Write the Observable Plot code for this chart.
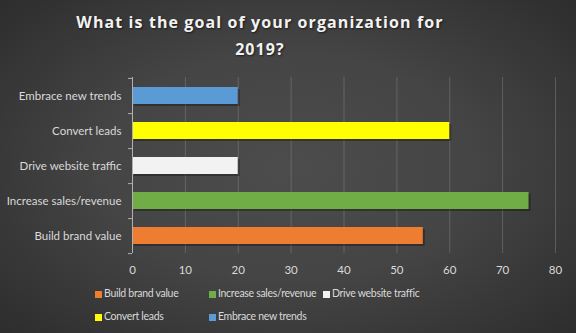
<!DOCTYPE html>
<html>
<head>
<meta charset="utf-8">
<script src="https://cdn.jsdelivr.net/npm/d3@7"></script>
<script src="https://cdn.jsdelivr.net/npm/@observablehq/plot@0.6"></script>
<style>
  html, body { margin: 0; padding: 0; }
  body {
    width: 576px; height: 333px; overflow: hidden; position: relative;
    background: radial-gradient(ellipse 70% 75% at 50% 50%, #4c4c4c 0%, #454545 45%, #2c2c2c 100%);
    font-family: Lato, "Open Sans", sans-serif;
  }
  #title {
    position: absolute; left: 0; top: 9px; width: 520px; text-align: center;
    color: #f2f2f2; font-family: "Open Sans", sans-serif; font-weight: 700;
    font-size: 16px; letter-spacing: 1.1px; line-height: 27px;
    text-shadow: 1px 1px 2px rgba(0,0,0,0.6);
  }
  #chart { position: absolute; left: 0; top: 64px; }
  #legend { position: absolute; left: 95px; top: 287px; width: 400px; display: flex; flex-wrap: wrap; }
  .item { width: 114px; height: 23px; display: flex; align-items: flex-start; color: #d9d9d9; font-size: 10.5px; letter-spacing: -0.3px; white-space: nowrap; }
  .sw { width: 7px; height: 7px; margin-right: 2px; margin-top: 4px; flex: none; }
</style>
</head>
<body>
<div id="title">What is the goal of your organization for<br>2019?</div>
<div id="chart"></div>
<div id="legend"></div>
<script>
const categories = ["Build brand value", "Increase sales/revenue", "Drive website traffic", "Convert leads", "Embrace new trends"];
const values = [55, 75, 20, 60, 20];
const colors = ["#ED7D31", "#70AD47", "#F2F2F2", "#FFFF00", "#5B9BD5"];
const xTicks = [0, 10, 20, 30, 40, 50, 60, 70, 80];

const data = categories.map((c, i) => ({category: c, value: values[i], color: colors[i]}));
const order = categories.slice().reverse();

const height = 216, marginTop = 13, marginBottom = 27;
const step = (height - marginTop - marginBottom) / categories.length;

const plot = Plot.plot({
  width: 576,
  height,
  marginLeft: 132,
  marginRight: 21,
  marginTop,
  marginBottom,
  style: {background: "transparent", color: "#d9d9d9", fontSize: "11px", fontFamily: "Lato, 'Open Sans', sans-serif"},
  x: {domain: [0, 80], ticks: xTicks},
  y: {domain: order, paddingInner: 0.52, paddingOuter: 0.26},
  marks: [
    Plot.gridX(xTicks, {stroke: "#8a8a8a", strokeOpacity: 0.45}),
    Plot.axisX(xTicks, {tickSize: 0, tickPadding: 12, fill: "#d9d9d9", fontSize: 11.5, label: null}),
    Plot.axisY({tickSize: 0, tickPadding: 11, fill: "#d9d9d9", fontSize: 11.5, label: null}),
    Plot.ruleY(order, {y: d => d, x1: -0.75, x2: 0, dy: step / 2, stroke: "#b0b0b0"}),
    Plot.ruleY(order.slice(0, 1), {y: d => d, x1: -0.75, x2: 0, dy: -step / 2, stroke: "#b0b0b0"}),
    Plot.barX(data, {x: "value", y: "category", fill: "#000", fillOpacity: 0.3, dx: 2, dy: 2}),
    Plot.barX(data, {x: "value", y: "category", fill: "color"}),
    Plot.ruleX([0], {stroke: "#b0b0b0"})
  ]
});
document.getElementById("chart").appendChild(plot);

const legend = document.getElementById("legend");
categories.forEach((c, i) => {
  const it = document.createElement("div");
  it.className = "item";
  const sw = document.createElement("span");
  sw.className = "sw";
  sw.style.background = colors[i];
  it.appendChild(sw);
  it.appendChild(document.createTextNode(c));
  legend.appendChild(it);
});
</script>
</body>
</html>
